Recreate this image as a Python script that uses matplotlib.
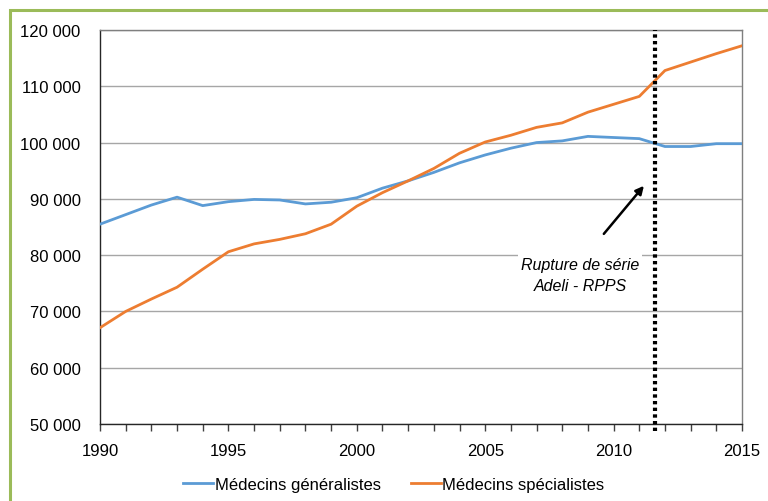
import matplotlib.pyplot as plt
from matplotlib.patches import Rectangle
from matplotlib.ticker import FuncFormatter, MultipleLocator

plt.rcParams["font.family"] = ["Liberation Sans", "DejaVu Sans"]

# Effectifs de médecins, 1990-2015
years = list(range(1990, 2016))
generalistes = [85500, 87200, 88900, 90300, 88800, 89500, 89900, 89800, 89100, 89400,
                90200, 91900, 93200, 94700, 96400, 97800, 99000, 100000, 100300, 101100,
                100900, 100700, 99300, 99300, 99800, 99800]
specialistes = [67100, 70000, 72200, 74300, 77500, 80600, 82000, 82800, 83800, 85500,
                88700, 91100, 93200, 95400, 98100, 100100, 101300, 102700, 103500, 105400,
                106800, 108200, 112800, 114300, 115800, 117200]
rupture_year = 2011.6
yticks = [50000, 60000, 70000, 80000, 90000, 100000, 110000, 120000]

blue = "#5B9BD5"
orange = "#ED7D31"

fig = plt.figure(figsize=(7.68, 5.02), dpi=100)
ax = fig.add_axes([100 / 768, 1 - 425 / 502, 642 / 768, 394 / 502])

# Green frame around the whole chart
fig.patches.append(Rectangle((10 / 768, -0.1), 1.2, 1 - 11 / 502 + 0.1,
                             transform=fig.transFigure, fill=False,
                             edgecolor="#9BBB59", linewidth=2.2))

ax.plot(years, generalistes, color=blue, lw=2.0, label="Médecins généralistes", zorder=3)
ax.plot(years, specialistes, color=orange, lw=2.0, label="Médecins spécialistes", zorder=3)

ax.set_xlim(1990, 2015)
ax.set_ylim(50000, 120000)
ax.set_yticks(yticks)
ax.yaxis.set_major_formatter(FuncFormatter(lambda v, p: f"{int(v):,}".replace(",", " ")))
ax.set_xticks([1990, 1995, 2000, 2005, 2010, 2015])
ax.xaxis.set_minor_locator(MultipleLocator(1))
ax.tick_params(axis="x", which="both", direction="out", length=5, width=1,
               color="#404040", labelsize=12, pad=9)
ax.tick_params(axis="y", length=0, labelsize=12, pad=14)

ax.grid(axis="y", color="#A6A6A6", lw=1)
ax.set_axisbelow(True)
for s in ["top", "right"]:
    ax.spines[s].set_color("#7F7F7F")
    ax.spines[s].set_linewidth(1)
for s in ["left", "bottom"]:
    ax.spines[s].set_color("#262626")
    ax.spines[s].set_linewidth(1)

# Rupture de série
ax.plot([rupture_year, rupture_year], [50000 - 1200, 120000], color="black",
        lw=3, linestyle=(0, (0.8, 0.8)), clip_on=False, zorder=4)
ax.text(2008.7, 76500, "Rupture de série\nAdeli - RPPS", style="italic",
        fontsize=11.5, ha="center", va="center", linespacing=1.5,
        bbox=dict(facecolor="white", edgecolor="none", pad=2), zorder=5)
ax.annotate("", xy=(2011.25, 92700), xytext=(2009.55, 83400),
            arrowprops=dict(arrowstyle="-|>", color="black", lw=1.8,
                            mutation_scale=12), zorder=5)

ax.legend(loc="upper left", bbox_to_anchor=(83 / 642, -53 / 394), ncol=2, frameon=False,
          fontsize=12, handlelength=1.8, handletextpad=0.1, columnspacing=1.8,
          borderpad=0, borderaxespad=0)

fig.savefig("out.png", dpi=100)
